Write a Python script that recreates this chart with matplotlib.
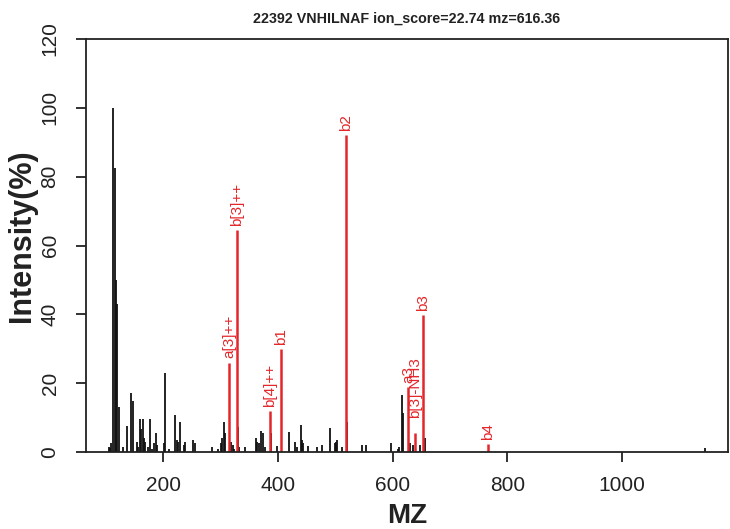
import matplotlib
matplotlib.use("Agg")
import matplotlib.pyplot as plt

plt.rcParams['font.family'] = ['Liberation Sans', 'DejaVu Sans']

title = "22392 VNHILNAF ion_score=22.74 mz=616.36"

# unmatched peaks (mz, relative intensity %)
peak_mz = [105.5, 107.0, 110.0, 112.2, 115.7, 118.0, 119.7, 122.5, 131.0, 137.7,
           144.7, 147.0, 154.0, 156.3, 159.8, 162.0, 164.5, 166.8, 169.0, 173.8,
           177.3, 180.7, 184.0, 187.7, 190.0, 201.6, 203.4, 211.0, 220.8, 224.3,
           226.6, 229.5, 236.5, 238.8, 252.7, 256.2, 284.8, 295.2, 300.5, 302.8,
           306.2, 308.0, 317.9, 321.4, 323.7, 331.2, 333.0, 342.8, 362.0, 364.3,
           366.7, 371.3, 374.2, 378.2, 388.7, 399.2, 420.0, 430.5, 433.0, 440.4,
           442.2, 444.4, 452.0, 468.9, 476.5, 491.0, 499.1, 500.9, 503.2, 511.4,
           520.5, 546.8, 553.7, 596.8, 609.0, 611.2, 616.3, 618.0, 630.5, 635.0,
           648.0, 657.0, 1144.6]
peak_int = [1.5, 1.2, 2.5, 100.0, 82.5, 50.0, 43.0, 13.0, 1.5, 7.5,
            17.0, 14.8, 3.0, 1.5, 9.5, 6.6, 9.5, 4.0, 3.0, 1.5,
            9.5, 1.0, 2.5, 5.5, 2.0, 2.5, 23.0, 1.0, 10.8, 3.5,
            3.0, 8.6, 2.0, 3.0, 3.4, 2.5, 1.5, 1.0, 2.5, 4.0,
            8.7, 5.5, 3.0, 2.0, 1.0, 7.3, 1.5, 1.5, 4.0, 3.0,
            2.5, 6.0, 5.5, 1.5, 5.5, 1.8, 5.8, 3.0, 1.5, 7.7,
            3.5, 2.5, 1.8, 1.5, 2.0, 7.1, 2.5, 3.0, 3.5, 1.5,
            8.6, 2.0, 2.0, 2.5, 1.0, 1.5, 16.7, 11.2, 2.5, 2.0,
            2.0, 4.0, 1.3]

# matched fragment ions
ion_labels = ["a[3]++", "b[3]++", "b[4]++", "b1", "b2", "a3", "b[3]-NH3", "b3", "b4"]
ion_mz = [315.5, 328.9, 385.9, 405.0, 518.9, 627.5, 638.6, 653.6, 766.9]
ion_int = [26.0, 64.5, 12.0, 30.0, 92.2, 18.8, 5.6, 39.7, 2.4]

red = '#e4262a'
dark = '#222222'

fig = plt.figure(figsize=(7.30, 5.29), dpi=100)
ax = fig.add_axes([86/730, 1 - 452/529, (728 - 86)/730, (452 - 39)/529])

ax.vlines(peak_mz, 0, peak_int, colors='#111111', linewidth=1.3)
ax.vlines(ion_mz, 0, ion_int, colors=red, linewidth=1.8)

for lab, x, y in zip(ion_labels, ion_mz, ion_int):
    gap = 4.2 if lab == "b[3]-NH3" else 1.2
    ax.text(x, y + gap, lab, rotation=90, ha='center', va='bottom',
            color=red, fontsize=11)

ax.set_xlim(65.7, 1184.7)
ax.set_ylim(0, 120)
ax.set_xticks([200, 400, 600, 800, 1000])
ax.set_yticks([0, 20, 40, 60, 80, 100, 120])
ax.set_yticklabels(['0', '20', '40', '60', '80', '100', '120'], rotation=90, va='center')

ax.tick_params(axis='both', direction='out', length=7, width=1.3, colors=dark,
               labelsize=15, labelcolor=dark)
ax.tick_params(axis='x', pad=10)
ax.tick_params(axis='y', pad=12)
for s in ax.spines.values():
    s.set_linewidth(1.3)
    s.set_color(dark)

ax.set_title(title, fontsize=10.3, fontweight='bold', color=dark, pad=12)
ax.set_xlabel('MZ', fontsize=20, fontweight='bold', color=dark)
ax.set_ylabel('Intensity(%)', fontsize=22, fontweight='bold', color=dark)
ax.xaxis.label.set_va('center')
ax.yaxis.label.set_va('center')
ax.xaxis.set_label_coords(0.5, (452 - 516) / (452 - 39))
ax.yaxis.set_label_coords((22 - 86) / (728 - 86), (452 - 236) / (452 - 39))

fig.savefig('out.png', dpi=100)
